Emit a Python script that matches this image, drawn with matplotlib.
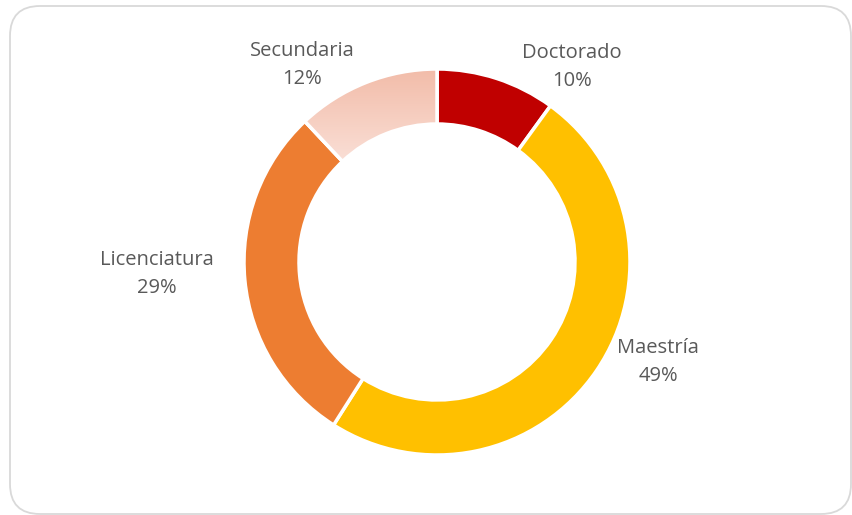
import numpy as np
import matplotlib.pyplot as plt
from matplotlib.patches import FancyBboxPatch, Wedge

# chart data
niveles = ['Doctorado', 'Maestría', 'Licenciatura', 'Secundaria']
porcentajes = [10, 49, 29, 12]
colores = ['#c00000', '#ffc000', '#ed7d31', '#f6cbbd']

W, H = 852, 515
fig = plt.figure(figsize=(W / 100, H / 100), dpi=100)
ax = fig.add_axes([0, 0, 1, 1])
ax.set_xlim(0, W)
ax.set_ylim(0, H)
ax.set_aspect('equal')
ax.axis('off')

# rounded chart border
borde = FancyBboxPatch((10, 1), 841, 508, boxstyle='round,pad=0,rounding_size=30',
                       fc='white', ec='#d9d9d9', lw=1.3, zorder=0)
ax.add_patch(borde)

cx, cy, r = 437, 253, 193
wedges, _ = ax.pie(porcentajes, colors=colores, startangle=90, counterclock=False,
                   center=(cx, cy), radius=r,
                   wedgeprops=dict(width=55, edgecolor='white', linewidth=2.5))
ax.set_xlim(0, W)
ax.set_ylim(0, H)

# gradient fill on Secundaria (darker on top)
sec = wedges[3]
grad = np.linspace(0, 1, 256).reshape(-1, 1)
c_top = np.array([0xf2, 0xbc, 0xa9]) / 255
c_bot = np.array([0xfa, 0xdf, 0xd6]) / 255
img = c_top[None, None, :] * (1 - grad[..., None]) + c_bot[None, None, :] * grad[..., None]
im = ax.imshow(img, extent=(cx - r, cx, cy + 100, cy + r), origin='upper',
               aspect='auto', zorder=sec.get_zorder())
im.set_clip_path(sec)
ax.add_patch(Wedge(sec.center, sec.r, sec.theta1, sec.theta2, width=sec.width,
                   fc='none', ec='white', lw=2.5, zorder=sec.get_zorder() + 0.1))

# labels
pos = [(572, 448), (658, 153), (157, 241), (302, 450)]
for nombre, p, (x, y) in zip(niveles, porcentajes, pos):
    ax.text(x, y, f'{nombre}\n{p}%', ha='center', va='center', fontsize=14.5,
            color='#595959', family='Open Sans', linespacing=1.5)

fig.savefig('out.png', dpi=100)
